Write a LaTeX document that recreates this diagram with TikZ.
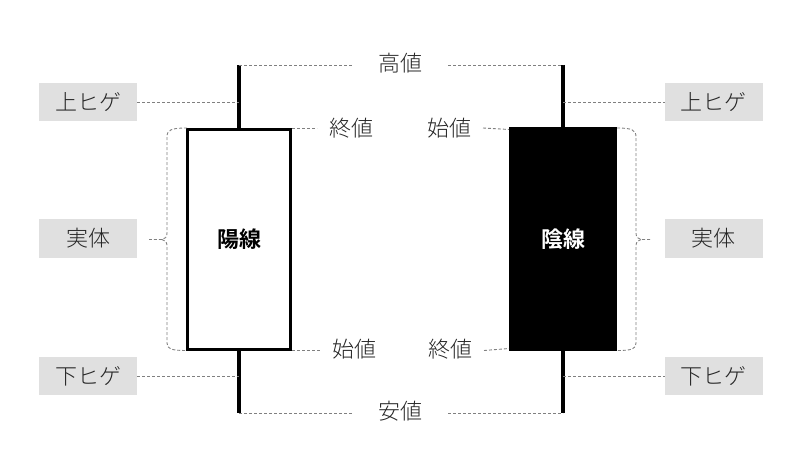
\documentclass[tikz,border=0pt]{standalone}
\usepackage{fontspec}
\IfFontExistsTF{Noto Sans CJK JP Light}
  {\setmainfont{Noto Sans CJK JP Light}}
  {\setmainfont{Noto Sans CJK JP}}
\IfFontExistsTF{Noto Sans CJK JP Bold}
  {\newfontfamily\jpbold{Noto Sans CJK JP Bold}}
  {\newfontfamily\jpbold{Noto Sans CJK JP}[FakeBold=2]}
\begin{document}
\begin{tikzpicture}[x=1pt,y=-1pt,
  txt/.style={font=\fontsize{22}{26}\selectfont, text=black!85, inner ysep=0pt, outer sep=0pt},
  lab/.style={txt, fill=black!12, minimum width=98pt, minimum height=38pt, inner sep=0pt},
  price/.style={txt, inner xsep=12pt},
  hilo/.style={txt, inner xsep=26pt},
  guide/.style={draw=black!50, line width=0.9pt, dash pattern=on 3pt off 2pt},
  wick/.style={line width=3.6pt, draw=black},
  candle/.style={draw=black, line width=3pt, inner sep=0pt, outer sep=0pt,
     font=\jpbold\fontsize{22}{26}\selectfont}
]
\useasboundingbox (0,0) rectangle (811,473);

% candle bodies
\node[candle, fill=white, minimum width=103pt, minimum height=220pt] (bL) at (239,239.5) {陽線};
\node[candle, fill=black, text=white, minimum width=105pt, minimum height=221pt] (bR) at (563,239) {陰線};

% wick ends
\coordinate (hL) at (239,65);
\coordinate (lL) at (239,413);
\coordinate (hR) at (563,65);
\coordinate (lR) at (563,413);

% wicks
\draw[wick] (hL) -- (bL.north);
\draw[wick] (bL.south) -- (lL);
\draw[wick] (hR) -- (bR.north);
\draw[wick] (bR.south) -- (lR);

% side labels
\node[lab] (uL) at (88,102) {上ヒゲ};
\node[lab] (jL) at (88,238.5) {実体};
\node[lab] (dL) at (88,376) {下ヒゲ};
\node[lab] (uR) at (713.5,102) {上ヒゲ};
\node[lab] (jR) at (713.5,238.5) {実体};
\node[lab] (dR) at (713.5,376) {下ヒゲ};

% price labels
\node[hilo] (takane) at (400,63) {高値};
\node[hilo] (yasune) at (400,411) {安値};
\node[price] (owL) at (351,128) {終値};
\node[price] (haR) at (449,128) {始値};
\node[price] (haL) at (354,349) {始値};
\node[price] (owR) at (450,349) {終値};

% high / low guides
\draw[guide] (hL) -- (hL -| takane.west);
\draw[guide] (hR -| takane.east) -- (hR);
\draw[guide] (lL) -- (lL -| yasune.west);
\draw[guide] (lR -| yasune.east) -- (lR);

% open / close guides
\draw[guide] (bL.north east) ++(1.5,-1.5) -- (owL.west |- 0,128);
\draw[guide] (haR.east |- 0,128) -- ([xshift=-1.5pt,yshift=-1pt]bR.north west);
\draw[guide] (bL.south east) ++(1.5,1) -- (haL.west |- 0,350.5);
\draw[guide] (owR.east |- 0,350.5) -- ([xshift=-1.5pt,yshift=1pt]bR.south west);

% shadow guides
\draw[guide] (uL.east) -- (uL.east -| hL);
\draw[guide] (dL.east) -- (dL.east -| lL);
\draw[guide] (uR.west -| hR) -- (uR.west);
\draw[guide] (dR.west -| lR) -- (dR.west);

% braces
\draw[guide] (187,128) .. controls (171,128) and (167,130) .. (167,137)
  -- (167,233) .. controls (167,237) and (165,239) .. (162,239.5) -- (149,239.5);
\draw[guide] (162,239.5) .. controls (165,240) and (167,242) .. (167,246)
  -- (167,343) .. controls (167,349) and (171,350.5) .. (187,350.5);
\draw[guide] (617,128) .. controls (632,128) and (636,130) .. (636,137)
  -- (636,233) .. controls (636,237) and (638,239) .. (641,239.5) -- (652,239.5);
\draw[guide] (641,239.5) .. controls (638,240) and (636,242) .. (636,246)
  -- (636,343) .. controls (636,349) and (632,350.5) .. (617,350.5);
\end{tikzpicture}
\end{document}
